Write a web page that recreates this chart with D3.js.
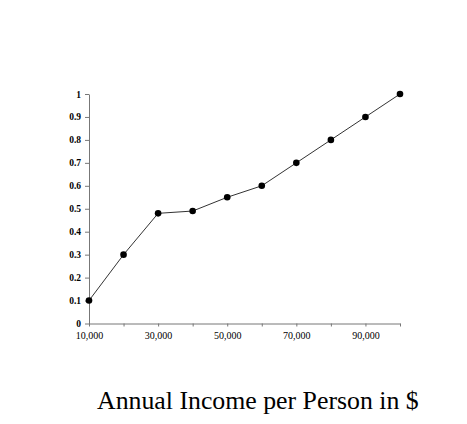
<!DOCTYPE html>
<html>
<head>
<meta charset="utf-8">
<script src="https://cdn.jsdelivr.net/npm/d3@7"></script>
<style>
    body { margin: 0; background: #fff; }
    svg { display: block; }
</style>
</head>
<body>
<div id="chart"></div>
<script>
// Chart data
var incomes = [10000, 20000, 30000, 40000, 50000, 60000, 70000, 80000, 90000, 100000];
var shares = [0.1, 0.3, 0.48, 0.49, 0.55, 0.6, 0.7, 0.8, 0.9, 1.0];
var yTicks = [0, 0.1, 0.2, 0.3, 0.4, 0.5, 0.6, 0.7, 0.8, 0.9, 1];
var xLabelled = [10000, 30000, 50000, 70000, 90000];
var xTickLabels = ["10,000", "30,000", "50,000", "70,000", "90,000"];
var xTitle = "Annual Income per Person in $";

var width = 467, height = 424;
var margin = { top: 94, left: 89, right: 67, bottom: 100.5 };

var svg = d3.select("#chart").append("svg")
    .attr("width", width)
    .attr("height", height);

var xScale = d3.scaleLinear()
    .domain([10000, 100000])
    .range([margin.left, width - margin.right]);

var yScale = d3.scaleLinear()
    .domain([0, 1])
    .range([height - margin.bottom, margin.top]);

var xAxisGen = d3.axisBottom(xScale)
    .tickValues(incomes)
    .tickSize(3)
    .tickSizeOuter(0)
    .tickFormat(function (d) {
        var i = xLabelled.indexOf(d);
        return i >= 0 ? xTickLabels[i] : "";
    });

var yAxisGen = d3.axisLeft(yScale)
    .tickValues(yTicks)
    .tickSize(4)
    .tickSizeOuter(0)
    .tickFormat(function (d) { return d === 0 ? "0" : d === 1 ? "1" : d3.format(".1f")(d); });

var xAxis = svg.append("g")
    .attr("class", "x axis")
    .attr("transform", "translate(0," + yScale(0) + ")")
    .call(xAxisGen);

xAxis.selectAll("text")
    .attr("dy", "0.95em")
    .attr("font-family", "Liberation Serif, Times New Roman, serif")
    .attr("font-size", 10)
    .attr("fill", "#000");

var yAxis = svg.append("g")
    .attr("class", "y axis")
    .attr("transform", "translate(" + xScale(10000) + ",0)")
    .call(yAxisGen);

yAxis.selectAll("text")
    .attr("x", -8)
    .attr("font-family", "Liberation Serif, Times New Roman, serif")
    .attr("font-weight", "bold")
    .attr("font-size", 9.5)
    .attr("fill", "#000");

svg.selectAll(".axis path, .axis line")
    .attr("stroke", "#777")
    .attr("stroke-width", 1);

var lineFunc = d3.line()
    .x(function (d, i) { return xScale(incomes[i]); })
    .y(function (d) { return yScale(d); });

svg.append("path")
    .attr("d", lineFunc(shares))
    .attr("stroke", "#333")
    .attr("stroke-width", 1)
    .attr("fill", "none");

svg.selectAll("circle.pt")
    .data(shares)
    .enter().append("circle")
    .attr("class", "pt")
    .attr("cx", function (d, i) { return xScale(incomes[i]); })
    .attr("cy", function (d) { return yScale(d); })
    .attr("r", 3.3)
    .attr("fill", "#000");

svg.append("text")
    .attr("x", 97)
    .attr("y", 409)
    .attr("font-family", "Liberation Serif, Times New Roman, serif")
    .attr("font-size", 25.8)
    .attr("fill", "#000")
    .text(xTitle);
</script>
</body>
</html>
